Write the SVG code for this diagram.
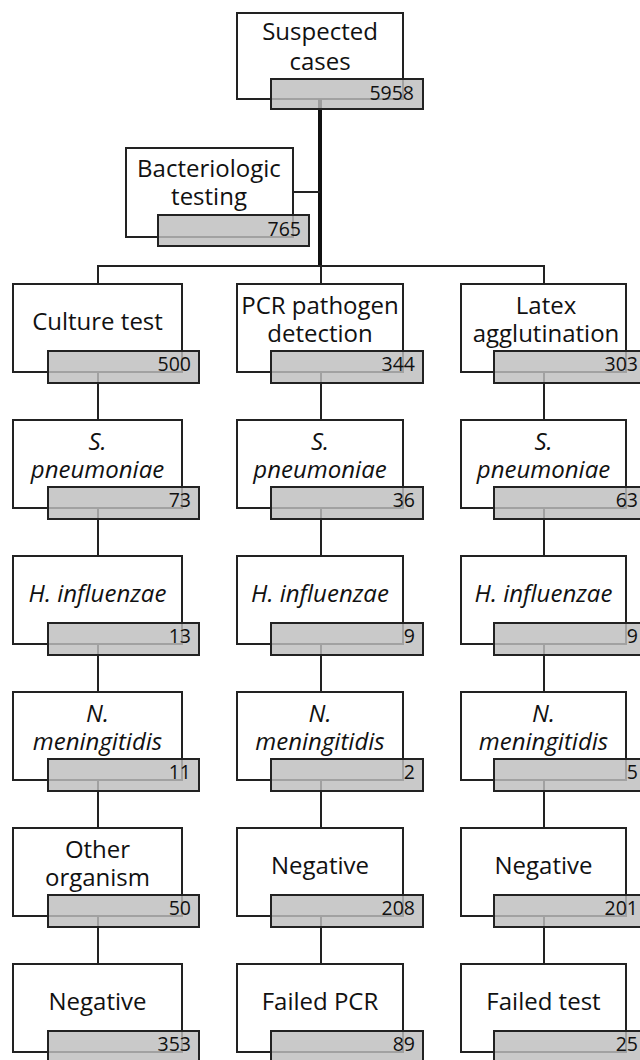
<svg xmlns="http://www.w3.org/2000/svg" width="640" height="1060" viewBox="0 0 640 1060">
<style>
.box{fill:#fff;stroke:#222;stroke-width:2}
.cnt{fill:#bdbdbd;fill-opacity:0.82;stroke:#222;stroke-width:2}
.lbl{font-family:"Open Sans","Noto Sans",sans-serif;font-size:24px;fill:#111;text-anchor:middle}
.it{font-style:italic}
.num{font-family:"Open Sans","Noto Sans",sans-serif;font-size:19.5px;fill:#111;text-anchor:end}
.ln{stroke:#222;stroke-width:2;fill:none}
.trunk{stroke:#111;stroke-width:4;fill:none}
</style>
<rect width="640" height="1060" fill="#fff"/>
<g id="n-top-box"><rect class="box" x="237" y="13" width="166" height="86"/></g>
<g id="n-bact-box"><rect class="box" x="126" y="148" width="167" height="89"/></g>
<g id="boxes">
<rect class="box" x="13" y="284" width="169" height="88"/>
<rect class="box" x="237" y="284" width="166" height="88"/>
<rect class="box" x="461" y="284" width="165" height="88"/>
<rect class="box" x="13" y="420" width="169" height="88"/>
<rect class="box" x="237" y="420" width="166" height="88"/>
<rect class="box" x="461" y="420" width="165" height="88"/>
<rect class="box" x="13" y="556" width="169" height="88"/>
<rect class="box" x="237" y="556" width="166" height="88"/>
<rect class="box" x="461" y="556" width="165" height="88"/>
<rect class="box" x="13" y="692" width="169" height="88"/>
<rect class="box" x="237" y="692" width="166" height="88"/>
<rect class="box" x="461" y="692" width="165" height="88"/>
<rect class="box" x="13" y="828" width="169" height="88"/>
<rect class="box" x="237" y="828" width="166" height="88"/>
<rect class="box" x="461" y="828" width="165" height="88"/>
<rect class="box" x="13" y="964" width="169" height="88"/>
<rect class="box" x="237" y="964" width="166" height="88"/>
<rect class="box" x="461" y="964" width="165" height="88"/>
</g>
<g id="connectors">
<line class="trunk" x1="320" y1="99" x2="320" y2="266"/>
<line class="ln" x1="293" y1="192" x2="320" y2="192"/>
<line class="ln" x1="97" y1="266" x2="545" y2="266"/>
<line class="ln" x1="98" y1="266" x2="98" y2="284"/>
<line class="ln" x1="321" y1="266" x2="321" y2="284"/>
<line class="ln" x1="544" y1="266" x2="544" y2="284"/>
<path class="ln" d="M98 372V420M98 508V556M98 644V692M98 780V828M98 916V964"/>
<path class="ln" d="M321 372V420M321 508V556M321 644V692M321 780V828M321 916V964"/>
<path class="ln" d="M544 372V420M544 508V556M544 644V692M544 780V828M544 916V964"/>
</g>
<g id="n-top">
<text class="lbl" x="320" y="40">Suspected</text>
<text class="lbl" x="320" y="70">cases</text>
<rect class="cnt" x="271" y="79" width="152" height="30"/>
<text class="num" x="414" y="100">5958</text>
</g>
<g id="n-bact">
<text class="lbl" x="209" y="177">Bacteriologic</text>
<text class="lbl" x="209" y="205">testing</text>
<rect class="cnt" x="158" y="215" width="151" height="31"/>
<text class="num" x="301" y="236">765</text>
</g>
<g id="n-culture">
<text class="lbl" x="97.5" y="330">Culture test</text>
<rect class="cnt" x="48" y="351" width="151" height="32"/>
<text class="num" x="191" y="371">500</text>
</g>
<g id="n-pcr">
<text class="lbl" x="320" y="314">PCR pathogen</text>
<text class="lbl" x="320" y="342">detection</text>
<rect class="cnt" x="271" y="351" width="152" height="32"/>
<text class="num" x="415" y="371">344</text>
</g>
<g id="n-latex">
<text class="lbl" x="546" y="314">Latex</text>
<text class="lbl" x="546" y="342">agglutination</text>
<rect class="cnt" x="494" y="351" width="152" height="32"/>
<text class="num" x="638" y="371">303</text>
</g>
<g id="n-c1-sp">
<text class="lbl it" x="97.5" y="450">S.</text>
<text class="lbl it" x="97.5" y="478">pneumoniae</text>
<rect class="cnt" x="48" y="487" width="151" height="32"/>
<text class="num" x="191" y="507">73</text>
</g>
<g id="n-c2-sp">
<text class="lbl it" x="320" y="450">S.</text>
<text class="lbl it" x="320" y="478">pneumoniae</text>
<rect class="cnt" x="271" y="487" width="152" height="32"/>
<text class="num" x="415" y="507">36</text>
</g>
<g id="n-c3-sp">
<text class="lbl it" x="543.5" y="450">S.</text>
<text class="lbl it" x="543.5" y="478">pneumoniae</text>
<rect class="cnt" x="494" y="487" width="152" height="32"/>
<text class="num" x="638" y="507">63</text>
</g>
<g id="n-c1-hi">
<text class="lbl it" x="97.5" y="602">H. influenzae</text>
<rect class="cnt" x="48" y="623" width="151" height="32"/>
<text class="num" x="191" y="643">13</text>
</g>
<g id="n-c2-hi">
<text class="lbl it" x="320" y="602">H. influenzae</text>
<rect class="cnt" x="271" y="623" width="152" height="32"/>
<text class="num" x="415" y="643">9</text>
</g>
<g id="n-c3-hi">
<text class="lbl it" x="543.5" y="602">H. influenzae</text>
<rect class="cnt" x="494" y="623" width="152" height="32"/>
<text class="num" x="638" y="643">9</text>
</g>
<g id="n-c1-nm">
<text class="lbl it" x="97.5" y="722">N.</text>
<text class="lbl it" x="97.5" y="750">meningitidis</text>
<rect class="cnt" x="48" y="759" width="151" height="32"/>
<text class="num" x="191" y="779">11</text>
</g>
<g id="n-c2-nm">
<text class="lbl it" x="320" y="722">N.</text>
<text class="lbl it" x="320" y="750">meningitidis</text>
<rect class="cnt" x="271" y="759" width="152" height="32"/>
<text class="num" x="415" y="779">2</text>
</g>
<g id="n-c3-nm">
<text class="lbl it" x="543.5" y="722">N.</text>
<text class="lbl it" x="543.5" y="750">meningitidis</text>
<rect class="cnt" x="494" y="759" width="152" height="32"/>
<text class="num" x="638" y="779">5</text>
</g>
<g id="n-c1-other">
<text class="lbl" x="97.5" y="858">Other</text>
<text class="lbl" x="97.5" y="886">organism</text>
<rect class="cnt" x="48" y="895" width="151" height="32"/>
<text class="num" x="191" y="915">50</text>
</g>
<g id="n-c2-neg">
<text class="lbl" x="320" y="874">Negative</text>
<rect class="cnt" x="271" y="895" width="152" height="32"/>
<text class="num" x="415" y="915">208</text>
</g>
<g id="n-c3-neg">
<text class="lbl" x="543.5" y="874">Negative</text>
<rect class="cnt" x="494" y="895" width="152" height="32"/>
<text class="num" x="638" y="915">201</text>
</g>
<g id="n-c1-neg">
<text class="lbl" x="97.5" y="1010">Negative</text>
<rect class="cnt" x="48" y="1031" width="151" height="32"/>
<text class="num" x="191" y="1051">353</text>
</g>
<g id="n-c2-fail">
<text class="lbl" x="320" y="1010">Failed PCR</text>
<rect class="cnt" x="271" y="1031" width="152" height="32"/>
<text class="num" x="415" y="1051">89</text>
</g>
<g id="n-c3-fail">
<text class="lbl" x="543.5" y="1010">Failed test</text>
<rect class="cnt" x="494" y="1031" width="152" height="32"/>
<text class="num" x="638" y="1051">25</text>
</g>
</svg>
